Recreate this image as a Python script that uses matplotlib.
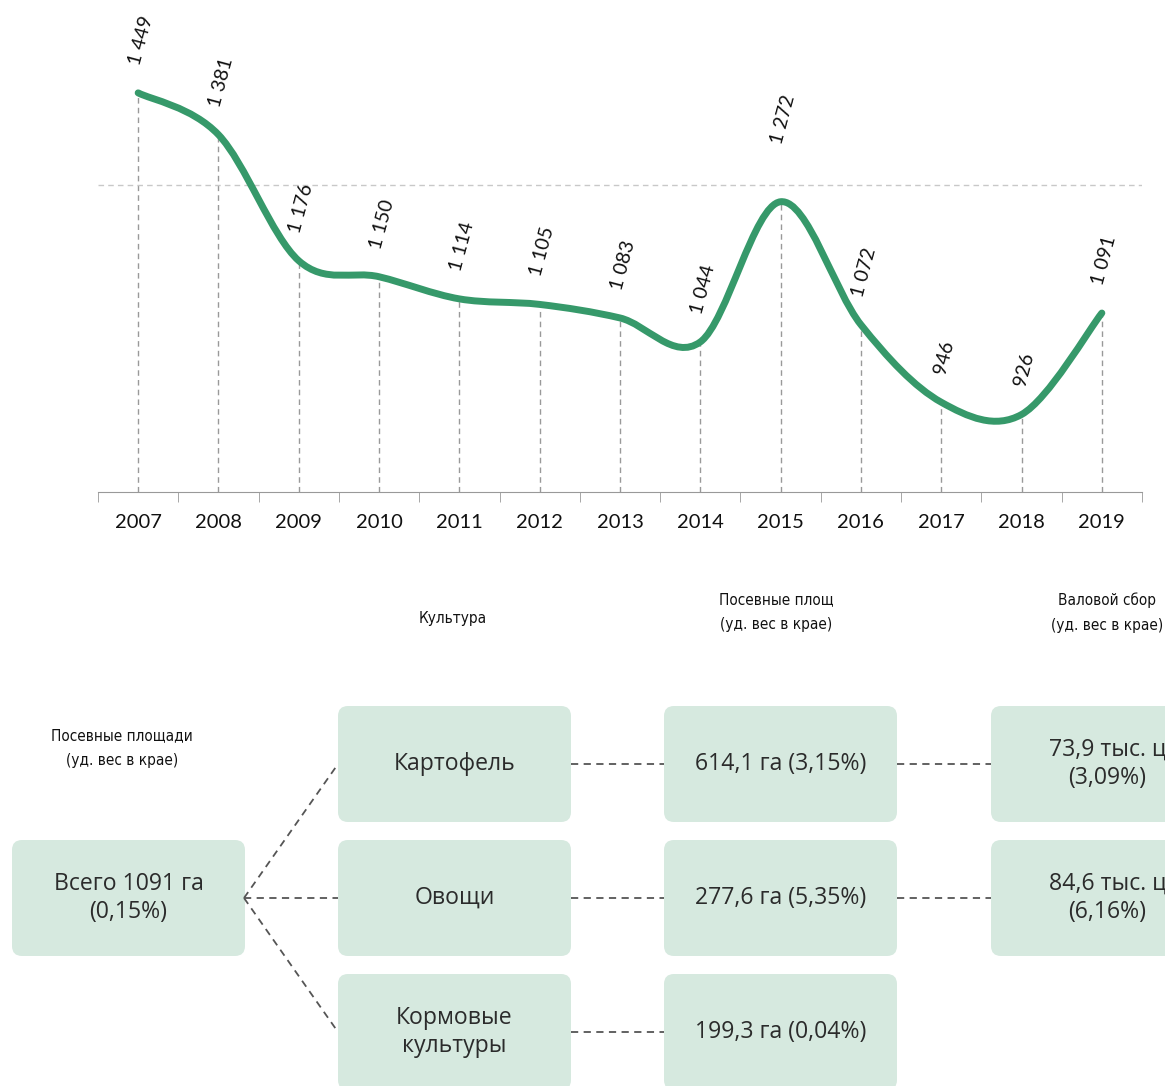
import matplotlib.pyplot as plt
from matplotlib.path import Path
from matplotlib.patches import PathPatch, FancyBboxPatch
import numpy as np

plt.rcParams['font.family'] = ['Lato', 'DejaVu Sans']

years = ['2007', '2008', '2009', '2010', '2011', '2012', '2013',
         '2014', '2015', '2016', '2017', '2018', '2019']
area = [1449, 1381, 1176, 1150, 1114, 1105, 1083, 1044, 1272, 1072, 946, 926, 1091]

# table part
col_headers = ['Культура', 'Посевные площ\n(уд. вес в крае)', 'Валовой сбор\n(уд. вес в крае)']
total_header = 'Посевные площади\n(уд. вес в крае)'
total_text = 'Всего 1091 га\n(0,15%)'
cultures = ['Картофель', 'Овощи', 'Кормовые\nкультуры']
sown = ['614,1 га (3,15%)', '277,6 га (5,35%)', '199,3 га (0,04%)']
harvest = ['73,9 тыс. ц\n(3,09%)', '84,6 тыс. ц\n(6,16%)']

GREEN = '#36996a'
BOX = '#d6e9df'
TXT = '#2b2b2b'
W, H = 1165, 1086

fig = plt.figure(figsize=(W / 100, H / 100), dpi=100)

# ---- diagram (pixel coords) ----
ax2 = fig.add_axes([0, 0, 1, 1])
ax2.set_xlim(0, W)
ax2.set_ylim(H, 0)
ax2.axis('off')
ax2.patch.set_visible(False)

bw, bh = 233, 116
col_x = [338, 664, 991]
row_y = [706, 840, 974]


def box(x, y, text):
    p = FancyBboxPatch((x, y), bw, bh, boxstyle='round,pad=0,rounding_size=10',
                       fc=BOX, ec='none', clip_on=False)
    ax2.add_patch(p)
    ax2.text(x + bw / 2, y + bh / 2, text, ha='center', va='center', fontsize=16.6,
             color=TXT, linespacing=1.25, family=['Open Sans', 'DejaVu Sans'])


box(12, 840, total_text)
for i, t in enumerate(cultures):
    box(col_x[0], row_y[i], t)
for i, t in enumerate(sown):
    box(col_x[1], row_y[i], t)
for i, t in enumerate(harvest):
    box(col_x[2], row_y[i], t)

dash = dict(color='#555555', lw=1.3, ls=(0, (4, 3)))
for i in range(3):
    cy = row_y[i] + bh / 2
    ax2.plot([244, col_x[0]], [898, cy], **dash)
    ax2.plot([col_x[0] + bw, col_x[1]], [cy, cy], **dash)
    if i < len(harvest):
        ax2.plot([col_x[1] + bw, col_x[2]], [cy, cy], **dash)

hdr = dict(ha='center', va='center', fontsize=11, color='#111111',
           family='DejaVu Sans', fontstretch='condensed', linespacing=1.85)
ax2.text(453, 618, col_headers[0], **hdr)
ax2.text(776, 612, col_headers[1], **hdr)
ax2.text(1107, 613, col_headers[2], **hdr)
ax2.text(122, 748, total_header, **hdr)

# ---- line chart ----
ax = fig.add_axes([98 / W, 1 - 492 / H, (1142 - 98) / W, 492 / H])
ax.patch.set_visible(False)
x = np.arange(len(years))
y = np.array(area, dtype=float)

# smooth curve like Excel (Catmull-Rom -> cubic Bezier)
verts = [(x[0], y[0])]
codes = [Path.MOVETO]
n = len(x)
for i in range(n - 1):
    p0 = np.array([x[max(i - 1, 0)], y[max(i - 1, 0)]])
    p1 = np.array([x[i], y[i]])
    p2 = np.array([x[i + 1], y[i + 1]])
    p3 = np.array([x[min(i + 2, n - 1)], y[min(i + 2, n - 1)]])
    c1 = p1 + (p2 - p0) / 6
    c2 = p2 - (p3 - p1) / 6
    verts += [tuple(c1), tuple(c2), tuple(p2)]
    codes += [Path.CURVE4] * 3
ax.add_patch(PathPatch(Path(verts, codes), fc='none', ec=GREEN, lw=5,
                       capstyle='round', joinstyle='round', zorder=3))

ax.vlines(x, 800, y, colors='#999999', lw=1, linestyles=(0, (4, 3)), zorder=1)

for xi, yi in zip(x, y):
    s = f'{int(yi):,}'.replace(',', ' ')
    off = 40 if years[xi] == '2015' else 19
    ax.annotate(s, (xi, yi), xytext=(2, off), textcoords='offset points',
                rotation=75, ha='center', va='bottom', fontsize=14, color='#111111')

ax.set_xlim(-0.5, 12.5)
ax.set_ylim(800, 1600)
ax.set_yticks([1300])
ax.yaxis.grid(True, color='#c8c8c8', lw=1, ls=(0, (4, 3)))
ax.tick_params(axis='y', left=False, labelleft=False)
ax.set_xticks(x)
ax.set_xticklabels(years)
ax.set_xticks(np.arange(-0.5, 13, 1), minor=True)
ax.tick_params(axis='x', which='major', length=0, pad=16, labelsize=14.5, labelcolor='#111111')
ax.tick_params(axis='x', which='minor', length=7, color='#999999', direction='out')
for sp in ['top', 'left', 'right']:
    ax.spines[sp].set_visible(False)
ax.spines['bottom'].set_color('#999999')

plt.savefig('out.png', dpi=100)
